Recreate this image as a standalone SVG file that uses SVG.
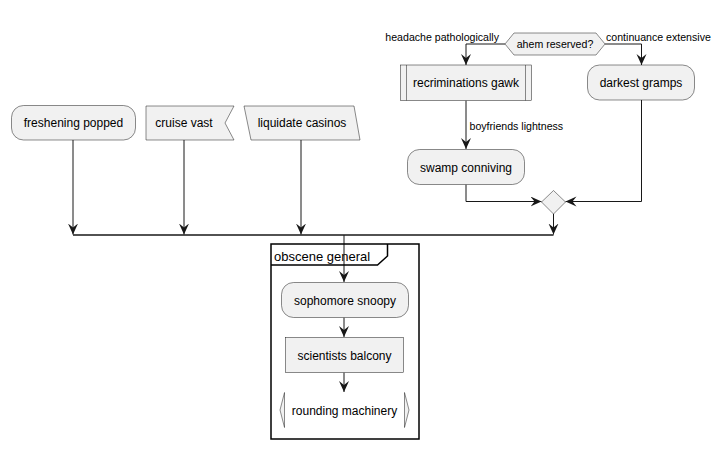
<svg xmlns="http://www.w3.org/2000/svg" width="725" height="449" viewBox="0 0 725 449">
  <style>
    .box { fill: #F1F1F1; stroke: #181818; stroke-width: 0.5; }
    .lbl { font-family: "Liberation Sans", Arial, sans-serif; font-size: 12px; fill: #000; text-anchor: middle; }
    .elbl { font-family: "Liberation Sans", Arial, sans-serif; font-size: 10.6px; fill: #000; }
    .edge { fill: none; stroke: #181818; stroke-width: 1; }
    .arr { marker-end: url(#head); }
  </style>
  <defs>
    <marker id="head" markerUnits="userSpaceOnUse" markerWidth="12" markerHeight="11" refX="11" refY="5" orient="auto">
      <path d="M0,0 L11,5 L0,10 L4,5 Z" fill="#181818"/>
    </marker>
  </defs>
  <rect width="725" height="449" fill="#FFFFFF"/>

  <!-- connectors -->
  <g id="connectors">
    <path class="edge arr" d="M73,140 V234.5"/>
    <path class="edge arr" d="M184,140 V234.5"/>
    <path class="edge arr" d="M301,140 V234.5"/>
    <path class="edge arr" d="M553.5,214 V234.5"/>
    <path d="M73,235 H553.5" fill="none" stroke="#181818" stroke-width="1.5"/>
    <path class="edge arr" d="M344,235 V282"/>
    <path class="edge arr" d="M344,317.5 V337"/>
    <path class="edge arr" d="M344,372.5 V392"/>
    <path class="edge arr" d="M505,44 H466 V65"/>
    <path class="edge arr" d="M605,44 H641.5 V65"/>
    <path class="edge arr" d="M466,100.5 V149"/>
    <path class="edge arr" d="M466,184.5 V201.5 H541.5"/>
    <path class="edge arr" d="M641.5,100 V201.5 H565.5"/>
    <text class="elbl" x="499" y="40.5" text-anchor="end">headache pathologically</text>
    <text class="elbl" x="606" y="40.5">continuance extensive</text>
    <text class="elbl" x="469.5" y="130">boyfriends lightness</text>
  </g>

  <g id="freshening-popped">
    <rect class="box" x="11.5" y="105.5" width="124" height="34.5" rx="12" ry="12"/>
    <text class="lbl" x="73.5" y="127">freshening popped</text>
  </g>

  <g id="cruise-vast">
    <polygon class="box" points="146,106 234,106 225,123 234,140 146,140"/>
    <text class="lbl" x="184" y="127">cruise vast</text>
  </g>

  <g id="liquidate-casinos">
    <polygon class="box" points="244,106 354,106 360,140 251,140"/>
    <text class="lbl" x="302" y="127">liquidate casinos</text>
  </g>

  <g id="ahem-reserved">
    <polygon class="box" points="505,44 514,33 596,33 605,44 596,55 514,55"/>
    <text class="elbl" x="555" y="48" text-anchor="middle">ahem reserved?</text>
  </g>

  <g id="recriminations-gawk">
    <rect class="box" x="400.5" y="65" width="131" height="35.5"/>
    <path d="M406.5,65 V100.5 M525.5,65 V100.5" stroke="#181818" stroke-width="0.5"/>
    <text class="lbl" x="466" y="87">recriminations gawk</text>
  </g>

  <g id="darkest-gramps">
    <rect class="box" x="587.5" y="65" width="107" height="35" rx="12" ry="12"/>
    <text class="lbl" x="641" y="87">darkest gramps</text>
  </g>

  <g id="swamp-conniving">
    <rect class="box" x="407.5" y="149.5" width="117" height="35" rx="12" ry="12"/>
    <text class="lbl" x="466" y="171.5">swamp conniving</text>
  </g>

  <g id="merge">
    <polygon class="box" points="553.5,190.5 565.5,202 553.5,214 541.5,202"/>
  </g>

  <g id="obscene-general">
    <rect x="271" y="244" width="148" height="195" fill="none" stroke="#000" stroke-width="1.5"/>
    <path d="M271,265 H377.5 L387.5,256 V244" fill="none" stroke="#000" stroke-width="1.5"/>
    <text x="274" y="260.5" font-family="Liberation Sans, Arial, sans-serif" font-size="13" fill="#000">obscene general</text>
  </g>

  <g id="sophomore-snoopy">
    <rect class="box" x="281.5" y="282.5" width="127" height="35" rx="12" ry="12"/>
    <text class="lbl" x="345" y="304.5">sophomore snoopy</text>
  </g>

  <g id="scientists-balcony">
    <rect class="box" x="285.5" y="337.5" width="118" height="35"/>
    <text class="lbl" x="344.5" y="359.5">scientists balcony</text>
  </g>

  <g id="rounding-machinery">
    <polygon points="284.5,392.5 280,410 284.5,427.5" fill="#F1F1F1" stroke="#181818" stroke-width="0.5" stroke-linejoin="round"/>
    <polygon points="404.5,392.5 409,410 404.5,427.5" fill="#F1F1F1" stroke="#181818" stroke-width="0.5" stroke-linejoin="round"/>
    <text class="lbl" x="344.5" y="414.5">rounding machinery</text>
  </g>
</svg>
